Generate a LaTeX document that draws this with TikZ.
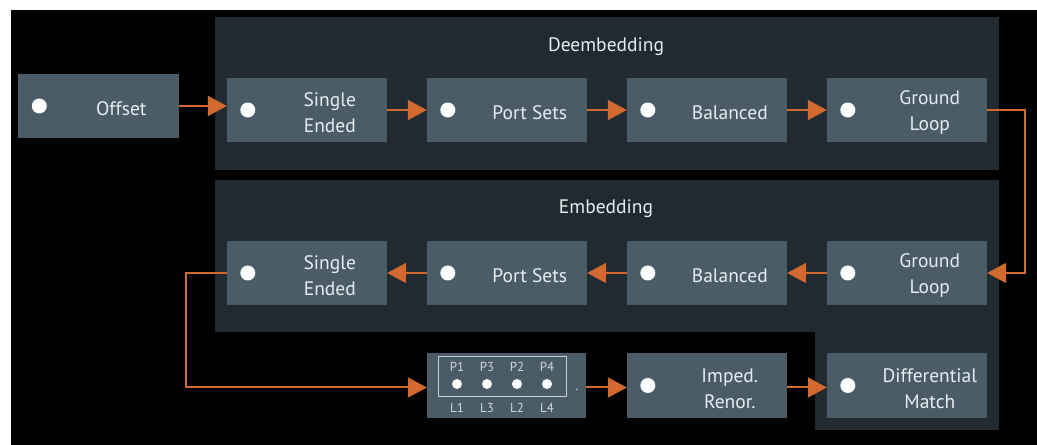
\documentclass[tikz,border=0pt]{standalone}
\usepackage{fontspec}
\setmainfont{PT Sans}
\usetikzlibrary{arrows.meta,positioning}
\definecolor{panel}{HTML}{222A31}
\definecolor{blockc}{HTML}{4A5C68}
\definecolor{flow}{HTML}{D2692F}
\definecolor{txt}{HTML}{E6EDF0}
\tikzset{
  blk/.style={rectangle,fill=blockc,minimum width=160bp,minimum height=64bp,inner sep=0pt},
  dotc/.style={circle,fill=white,minimum size=15bp,inner sep=0pt},
  lbl/.style={text=txt,align=center,font=\fontsize{19.5bp}{26bp}\selectfont},
  ttl/.style={text=txt,font=\fontsize{19.5bp}{22bp}\selectfont},
  pin/.style={text=txt!85!blockc,font=\fontsize{13bp}{14bp}\selectfont},
  flowline/.style={flow,line width=2bp,-{Triangle[length=19bp,width=20bp]}}
}
\begin{document}
\begin{tikzpicture}[x=1bp,y=-1bp]
  \useasboundingbox (0,0) rectangle (1037,445);
  \fill[black] (11,10) rectangle (1037,445);
  % panels
  \fill[panel] (215,17) rectangle (999,170);
  \fill[panel] (215,180) -- (999,180) -- (999,430) -- (815,430) -- (815,332) -- (215,332) -- cycle;
  \node[ttl] (tde) at (606,47) {Deembedding};
  \node[ttl] (tem) at (606,209) {Embedding};
  % deembedding row
  \node[blk] (off) at (98.5,106) {};
  \node[blk] (se1) at (307,110) {};
  \node[blk] (ps1) at (507,110) {};
  \node[blk] (ba1) at (707,110) {};
  \node[blk] (gl1) at (907,110) {};
  % embedding row
  \node[blk] (se2) at (307,273) {};
  \node[blk] (ps2) at (507,273) {};
  \node[blk] (ba2) at (707,273) {};
  \node[blk] (gl2) at (907,273) {};
  % bottom row
  \node[blk,minimum width=159bp,minimum height=65bp] (lbox) at (506.5,385.5) {};
  \node[blk,minimum height=65bp] (imp) at (707,385.5) {};
  \node[blk,minimum height=65bp] (dm) at (907,385.5) {};
  % dots and texts
  \foreach \b/\t in {off/Offset,se1/{Single\\Ended},ps1/Port Sets,ba1/Balanced,gl1/{Ground\\Loop},
                     se2/{Single\\Ended},ps2/Port Sets,ba2/Balanced,gl2/{Ground\\Loop},
                     imp/{Imped.\\Renor.},dm/{Differential\\Match}}{
    \node[dotc] (\b-dot) at ([xshift=21bp]\b.west) {};
    \node[lbl] (\b-txt) at ([xshift=103bp,yshift=-3bp]\b.west) {\t};
  }
  % port map
  \draw[txt!80!blockc,line width=1bp] (438,357) rectangle (566,397);
  \foreach \p/\l [count=\i] in {P1/L1,P3/L3,P2/L2,P4/L4}{
    \node[pin] (p\i) at (427+30*\i,367) {\p};
    \node[dotc,minimum size=10bp] (d\i) at (427+30*\i,384) {};
    \node[pin] (l\i) at (427+30*\i,408) {\l};
  }
  \node[text=txt,font=\fontsize{13bp}{14bp}\selectfont,inner sep=0pt] (pt) at (577,390) {.};
  % connectors
  \draw[flowline] (off.east) -- (off.east -| se1.west);
  \draw[flowline] (se1) -- (ps1);
  \draw[flowline] (ps1) -- (ba1);
  \draw[flowline] (ba1) -- (gl1);
  \draw[flowline] (gl1.east) -- ++(38,0) |- (gl2.east);
  \draw[flowline] (gl2) -- (ba2);
  \draw[flowline] (ba2) -- (ps2);
  \draw[flowline] (ps2) -- (se2);
  \draw[flowline] (se2.west) -- ++(-41,0) |- ([yshift=-2bp]lbox.west);
  \draw[flowline] ([yshift=-2bp]lbox.east) -- ([yshift=-2bp]imp.west);
  \draw[flowline] ([yshift=-2bp]imp.east) -- ([yshift=-2bp]dm.west);
\end{tikzpicture}
\end{document}
